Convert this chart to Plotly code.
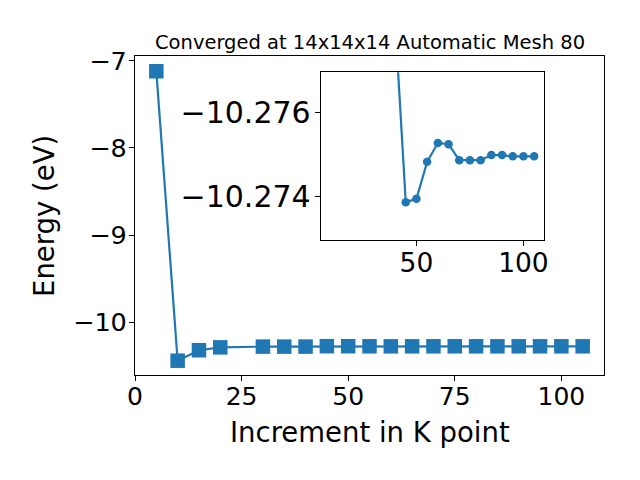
import plotly.graph_objects as go

# Data
k_points = [5, 10, 15, 20, 30, 35, 40, 45, 50, 55, 60, 65, 70, 75, 80, 85, 90, 95, 100, 105]
energy = [-7.12, -10.44, -10.32, -10.287, -10.2785, -10.2785, -10.2782, -10.27387, -10.27395,
          -10.27483, -10.27528, -10.27525, -10.27487, -10.27487, -10.27487, -10.27499,
          -10.27499, -10.27496, -10.27496, -10.27496]
inset_start = 1  # the inset shows the data from the second k-point on
main_xticks = [0, 25, 50, 75, 100]
main_yticks = [-7, -8, -9, -10]
inset_xticks = [50, 100]
inset_yticks = [-10.276, -10.274]
inset_yticklabels = ["−10.276", "−10.274"]

title_text = "Converged at 14x14x14 Automatic Mesh 80"
xlabel = "Increment in K point"
ylabel = "Energy (eV)"

W, H = 640, 480
BLUE = "#1f77b4"
FONT = "DejaVu Sans"

def px_x(p):
    return p / W

def px_y(p):
    return 1 - p / H

fig = go.Figure()
fig.add_trace(go.Scatter(
    x=k_points, y=energy, mode="lines+markers",
    line=dict(color=BLUE, width=2.2),
    marker=dict(symbol="square", size=14.5, color=BLUE),
    xaxis="x", yaxis="y", showlegend=False,
))
fig.add_trace(go.Scatter(
    x=k_points[inset_start:], y=energy[inset_start:], mode="lines+markers",
    line=dict(color=BLUE, width=2.2),
    marker=dict(symbol="circle", size=8.5, color=BLUE),
    xaxis="x2", yaxis="y2", showlegend=False,
))

axis_common = dict(
    showline=True, linecolor="black", linewidth=1.1, mirror=True,
    ticks="outside", ticklen=5, tickwidth=1.1, tickcolor="black",
    showgrid=False, zeroline=False, automargin=False,
)

fig.update_layout(
    width=W, height=H, autosize=False,
    margin=dict(l=0, r=0, t=0, b=0, autoexpand=False),
    paper_bgcolor="white", plot_bgcolor="white",
    font=dict(family=FONT, color="black"),
    xaxis=dict(domain=[px_x(135), px_x(604)], range=[0, 110], tickvals=main_xticks,
               tickfont=dict(size=25), ticklabelstandoff=-6, anchor="y", **axis_common),
    yaxis=dict(domain=[px_y(375), px_y(55.5)], range=[-10.604, -6.94], tickvals=main_yticks,
               tickfont=dict(size=25.5), ticklabelstandoff=-3, anchor="x", **axis_common),
    xaxis2=dict(domain=[px_x(320.7), px_x(544.3)], range=[5.25, 109.75], tickvals=inset_xticks,
                tickfont=dict(size=26.5), ticklabelstandoff=-6, anchor="y2", **axis_common),
    yaxis2=dict(domain=[px_y(240), px_y(72.3)], range=[-10.27297, -10.27696], tickvals=inset_yticks,
                ticktext=inset_yticklabels, tickfont=dict(size=30), ticklabelstandoff=-2,
                anchor="x2", **axis_common),
    annotations=[
        dict(text=title_text, x=px_x(369.5), y=px_y(42), xref="paper", yref="paper",
             xanchor="center", yanchor="middle", showarrow=False, font=dict(size=19.5)),
        dict(text=xlabel, x=px_x(369.5), y=px_y(432), xref="paper", yref="paper",
             xanchor="center", yanchor="middle", showarrow=False, font=dict(size=27.5)),
        dict(text=ylabel, x=px_x(44), y=px_y(216), xref="paper", yref="paper",
             xanchor="center", yanchor="middle", showarrow=False, textangle=-90,
             font=dict(size=27.5)),
    ],
)

fig.write_html(
    "out.html",
    config={"responsive": False, "displayModeBar": False},
    post_script="document.body.style.margin='0';document.body.style.overflow='hidden';",
)
